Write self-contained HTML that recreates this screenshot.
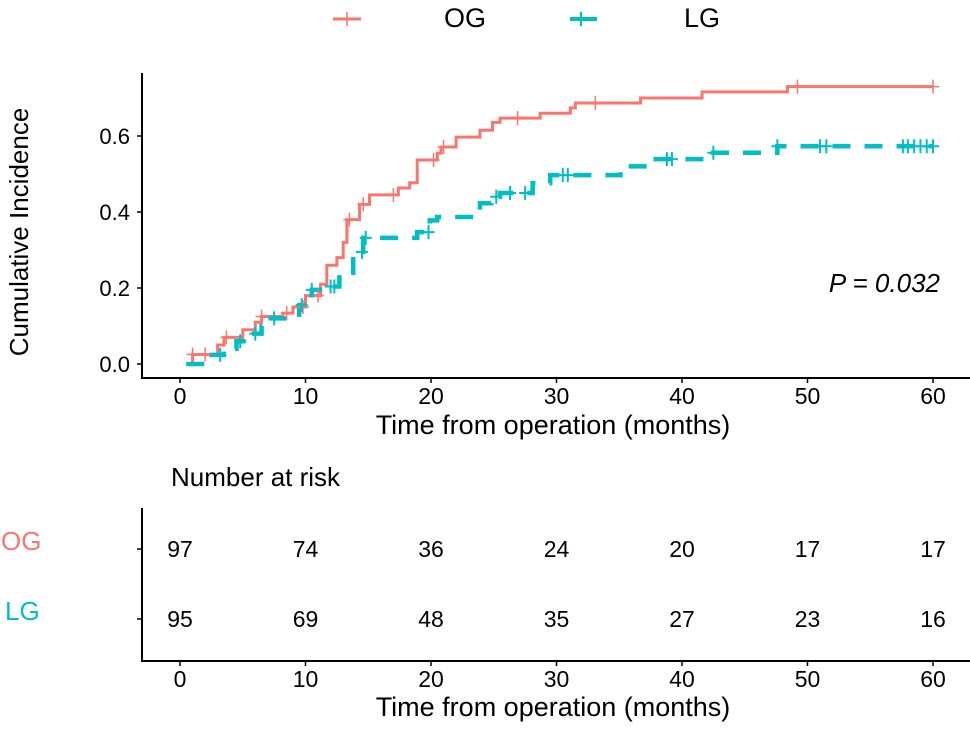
<!DOCTYPE html>
<html><head><meta charset="utf-8"><style>
body{margin:0;background:#fff;}
svg text{font-family:"Liberation Sans",Arial,sans-serif;}
</style></head><body>
<svg id="c" width="970" height="724" viewBox="0 0 970 724" xmlns="http://www.w3.org/2000/svg">
<g id="legend">
 <g>
  <line x1="333" y1="19" x2="361" y2="19" stroke="#F8766D" stroke-width="3"/>
  <line x1="347" y1="12" x2="347" y2="26" stroke="#F8766D" stroke-width="1.5"/>
  <text x="444" y="27" font-size="27">OG</text>
 </g>
 <g>
  <line x1="570" y1="19" x2="597" y2="19" stroke="#00BFC4" stroke-width="4"/>
  <line x1="581" y1="12" x2="581" y2="26" stroke="#00BFC4" stroke-width="2"/>
  <text x="684" y="27" font-size="27">LG</text>
 </g>
</g>
<g id="main"></g>
<g id="risk"></g>
</svg>
<script>
const ogTimes=[0.5,1,3,3.5,5,6,6.5,8.2,9,10,11.2,11.7,12.5,13,13.3,14.3,15.1,17.4,18.3,18.9,20.5,20.8,22,23.9,24.9,25.5,28.7,31.1,31.5,36.7,41.6,48.4];
const ogValues=[0,0.025,0.05,0.07,0.09,0.11,0.125,0.134,0.15,0.18,0.21,0.26,0.28,0.32,0.38,0.42,0.445,0.463,0.477,0.537,0.555,0.571,0.597,0.615,0.636,0.647,0.66,0.674,0.687,0.70,0.716,0.73];
const ogCensor=[1,2,3.7,6.5,8.5,9.8,11,13.5,14.6,17,20.2,21,26.9,33.1,49.2,60];
const lgTimes=[0.5,2.5,3.5,4.5,5.5,6.5,7,9,9.5,10,10.5,11.5,12.7,13.8,14.6,18.9,19.9,20.5,23.9,24.8,25.5,28.1,29.5,35.1,37.5,42.2,47.6];
const lgValues=[0,0.024,0.04,0.06,0.08,0.10,0.12,0.13,0.155,0.173,0.195,0.204,0.24,0.295,0.332,0.347,0.378,0.387,0.423,0.44,0.45,0.476,0.497,0.52,0.539,0.556,0.573];
const lgCensor=[3.2,4.8,6,7.5,9.7,10.5,12,12.3,14.5,14.8,19.8,25.2,26.3,27.5,30.5,30.9,38.8,39.2,42.5,47.6,51,51.5,57.6,58,58.5,59,59.5,60];
const xTicks=[0,10,20,30,40,50,60];
const yTicks=[0,0.2,0.4,0.6];
const yTickLabels=["0.0","0.2","0.4","0.6"];
const riskOG=[97,74,36,24,20,17,17];
const riskLG=[95,69,48,35,27,23,16];
const endTime=60;

const NS="http://www.w3.org/2000/svg";
const X=t=>180+t*(933-180)/60;
const Y=v=>364-v*380;
function mk(tag,attrs,parent,text){const e=document.createElementNS(NS,tag);for(const k in attrs)e.setAttribute(k,attrs[k]);if(text!==undefined)e.textContent=text;parent.appendChild(e);return e;}
const main=document.getElementById('main');
const risk=document.getElementById('risk');

let ax=mk('line',{x1:142,y1:73,x2:142,y2:379,stroke:'#000','stroke-width':2},main);


ax=mk('line',{x1:141,y1:378,x2:970,y2:378,stroke:'#000','stroke-width':2},main);


yTicks.forEach((v,i)=>{
 mk('line',{x1:137,y1:Y(v),x2:142,y2:Y(v),stroke:'#000','stroke-width':1.5},main);
 const t=mk('text',{x:130,y:Y(v)+8,'font-size':22,'text-anchor':'end'},main,yTickLabels[i]);
 
 
});
xTicks.forEach(v=>{
 mk('line',{x1:X(v),y1:378,x2:X(v),y2:383,stroke:'#000','stroke-width':1.5},main);
 const t=mk('text',{x:X(v),y:404,'font-size':23,'text-anchor':'middle'},main,String(v));
 
 
});
let tt=mk('text',{x:553,y:434,'font-size':27,'text-anchor':'middle'},main,'Time from operation (months)');


tt=mk('text',{x:0,y:0,'font-size':26,'text-anchor':'middle',transform:'translate(28,232) rotate(-90)'},main,'Cumulative Incidence');


tt=mk('text',{x:940,y:292,'font-size':26,'text-anchor':'end','font-style':'italic'},main,'P = 0.032');



function stepPath(ts,vs){let d=`M${X(ts[0])},${Y(vs[0])}`;for(let i=1;i<ts.length;i++){d+=`H${X(ts[i])}V${Y(vs[i])}`;}d+=`H${X(endTime)}`;return d;}
function valAt(ts,vs,t){let v=vs[0];for(let i=0;i<ts.length;i++)if(ts[i]<=t)v=vs[i];return v;}
let p=mk('path',{d:stepPath(ogTimes,ogValues),fill:'none',stroke:'#F8766D','stroke-width':3},main);


p=mk('path',{d:stepPath(lgTimes,lgValues),fill:'none',stroke:'#00BFC4','stroke-width':4.5,'stroke-dasharray':'18,14'},main);


ogCensor.forEach(t=>{
 const m=mk('path',{d:`M${X(t)-6},${Y(valAt(ogTimes,ogValues,t))}h12M${X(t)},${Y(valAt(ogTimes,ogValues,t))-7}v14`,stroke:'#F8766D','stroke-width':1.5,fill:'none'},main);
 
 
});
lgCensor.forEach(t=>{
 const m=mk('path',{d:`M${X(t)-6},${Y(valAt(lgTimes,lgValues,t))}h12M${X(t)},${Y(valAt(lgTimes,lgValues,t))-7}v14`,stroke:'#00BFC4','stroke-width':2,fill:'none'},main);
 
 
});

tt=mk('text',{x:171,y:486,'font-size':26},risk,'Number at risk');


ax=mk('line',{x1:142,y1:508,x2:142,y2:662,stroke:'#000','stroke-width':2},risk);


ax=mk('line',{x1:141,y1:661,x2:970,y2:661,stroke:'#000','stroke-width':2},risk);


mk('line',{x1:137,y1:549,x2:142,y2:549,stroke:'#000','stroke-width':1.5},risk);
mk('line',{x1:137,y1:619,x2:142,y2:619,stroke:'#000','stroke-width':1.5},risk);
tt=mk('text',{x:1,y:550,'font-size':26,fill:'#F8766D'},risk,'OG');


tt=mk('text',{x:5,y:620,'font-size':26,fill:'#00BFC4'},risk,'LG');


xTicks.forEach((v,i)=>{
 let a=mk('text',{x:X(v),y:557,'font-size':23,'text-anchor':'middle'},risk,String(riskOG[i]));
 
 
 a=mk('text',{x:X(v),y:627,'font-size':23,'text-anchor':'middle'},risk,String(riskLG[i]));
 
 
 mk('line',{x1:X(v),y1:661,x2:X(v),y2:666,stroke:'#000','stroke-width':1.5},risk);
 a=mk('text',{x:X(v),y:687,'font-size':23,'text-anchor':'middle'},risk,String(v));
 
 
});
tt=mk('text',{x:553,y:716,'font-size':27,'text-anchor':'middle'},risk,'Time from operation (months)');


</script>
</body></html>
